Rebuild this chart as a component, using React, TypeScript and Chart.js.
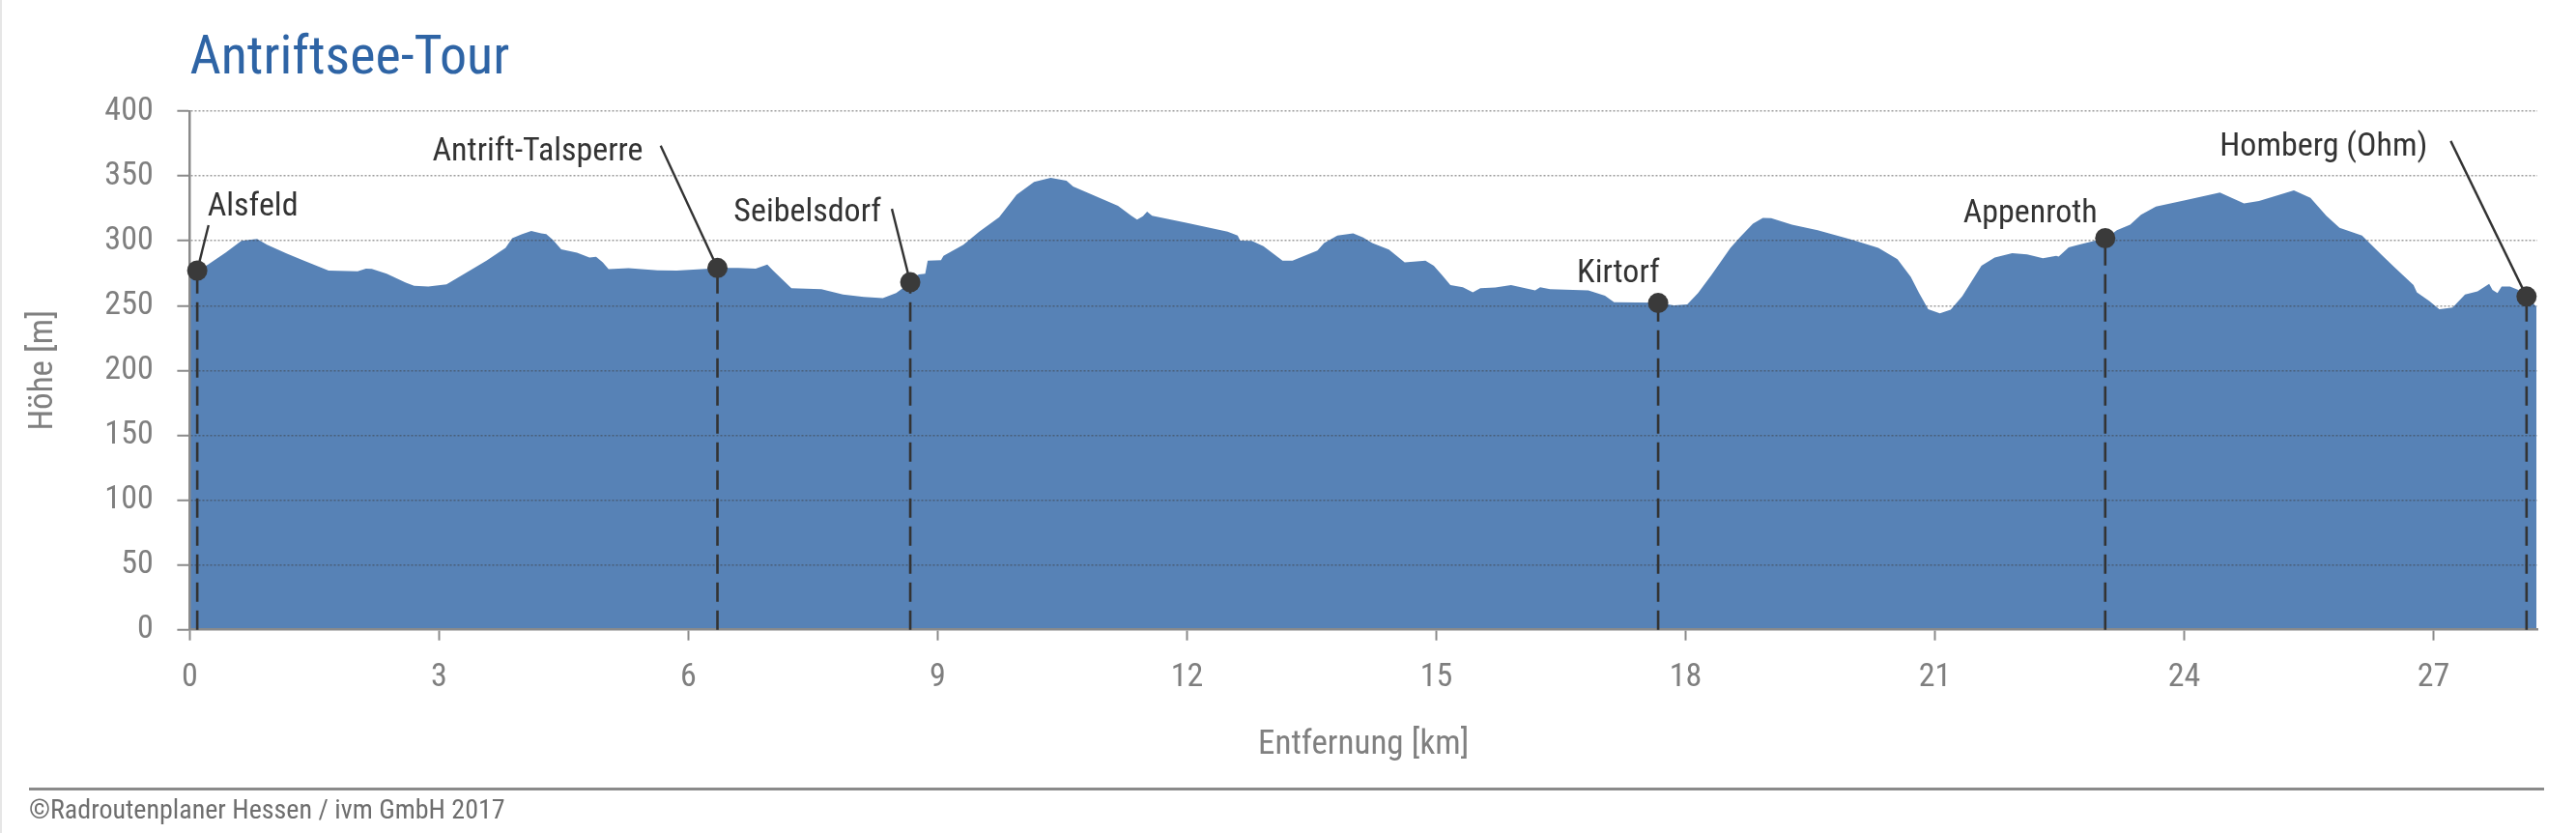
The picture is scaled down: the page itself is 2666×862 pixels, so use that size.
import React, { useEffect, useRef } from 'react';
import { Chart, registerables } from 'chart.js';

Chart.register(...registerables);

// ---------- data ----------
const distanceKm = [
  0, 0.09, 0.22, 0.43, 0.62, 0.81, 0.93, 1.17, 1.36, 1.67, 2.02, 2.12, 2.19, 2.37, 2.6, 2.7, 2.87, 3.09,
  3.34, 3.57, 3.8, 3.88, 4.0, 4.11, 4.23, 4.29, 4.37, 4.47, 4.66, 4.81, 4.89, 4.97, 5.04, 5.28, 5.63,
  5.86, 6.21, 6.35, 6.6, 6.81, 6.95, 7.02, 7.24, 7.6, 7.86, 8.11, 8.34, 8.5, 8.67, 8.77, 8.85, 8.88,
  9.04, 9.07, 9.31, 9.5, 9.74, 9.95, 10.16, 10.36, 10.55, 10.63, 10.86, 11.17, 11.33, 11.4, 11.47,
  11.52, 11.58, 11.99, 12.49, 12.61, 12.64, 12.78, 12.92, 13.15, 13.27, 13.57, 13.65, 13.81, 14.0,
  14.12, 14.23, 14.43, 14.62, 14.87, 14.97, 15.07, 15.17, 15.32, 15.44, 15.53, 15.71, 15.9, 16.19,
  16.25, 16.37, 16.83, 17.03, 17.14, 17.67, 17.86, 18.02, 18.15, 18.31, 18.54, 18.66, 18.81, 18.93,
  19.03, 19.28, 19.59, 20.01, 20.32, 20.55, 20.71, 20.81, 20.92, 21.06, 21.19, 21.33, 21.56, 21.72,
  21.93, 22.11, 22.3, 22.46, 22.49, 22.61, 22.73, 22.92, 23.06, 23.19, 23.35, 23.48, 23.66, 24.01,
  24.43, 24.72, 24.9, 25.32, 25.52, 25.71, 25.87, 26.14, 26.37, 26.53, 26.76, 26.8, 26.95, 27.07,
  27.23, 27.38, 27.53, 27.67, 27.71, 27.77, 27.82, 27.92, 28.02, 28.12, 28.23, 28.24,
];

const elevationM = [
  275, 277, 281.6, 290.8, 300, 301.5, 297, 290, 285, 277, 276.4, 278.6, 278.4, 274.6, 267.7, 265.2, 264.7, 266.4,
  275.9, 284.6, 294.5, 302, 305.2, 307.5, 305.7, 305.2, 300.7, 293.5, 290.8, 287, 287.6, 283.3, 278.1, 278.9, 277.3,
  277.1, 278.4, 279.1, 279.1, 278.6, 281.6, 277.1, 263.4, 262.7, 258.5, 256.7, 255.7, 259.7, 267.7, 274.1, 274.6, 284.6,
  285.1, 288.3, 297, 307, 318.2, 335.6, 345.5, 348.5, 346.3, 341.8, 335.6, 326.9, 319.4, 316.4, 318.9,
  322.4, 319.4, 313.9, 307, 304, 300.2, 300, 295.8, 284.6, 284.6, 292.5, 298.3, 304, 305.7,
  302.5, 298.3, 293.3, 283.3, 284.6, 280.8, 273.4, 265.9, 264.2, 260.2, 263.4, 263.9, 265.9, 261.7,
  264.2, 262.7, 261.7, 257.7, 252.7, 252.2, 250.2, 251, 259.7, 273.4, 294.5, 303.2, 313.2, 317.7,
  317.4, 312.4, 308.2, 300.7, 294.5, 285.8, 272.1, 259.7, 247.3, 244, 246.8, 257.2, 280.8, 287.1,
  290.5, 289.6, 286.6, 288.3, 287.8, 295, 297, 300, 302, 308.2, 312.4, 320.1, 326.4, 331.3,
  337.3, 328.9, 330.6, 338.8, 333.1, 319.4, 310, 304, 289.6, 279.6, 265.9, 260.2, 253.5, 247.3,
  248.5, 258.5, 261, 266.7, 262.2, 259.7, 264.7, 264.7, 262.2, 256.7, 249.8, 249.8,
];

const xTickValues = [0, 3, 6, 9, 12, 15, 18, 21, 24, 27];
const yTickValues = [0, 50, 100, 150, 200, 250, 300, 350, 400];

const placeNames = ['Alsfeld', 'Antrift-Talsperre', 'Seibelsdorf', 'Kirtorf', 'Appenroth', 'Homberg (Ohm)'];
const placeKm = [0.09, 6.35, 8.67, 17.67, 23.05, 28.12];
const placeElevation = [277, 279, 268, 252, 302, 257];

const TITLE = 'Antriftsee-Tour';
const X_TITLE = 'Entfernung [km]';
const Y_TITLE = 'Höhe [m]';
const FOOTER = '©Radroutenplaner Hessen / ivm GmbH 2017';

// ---------- layout / style (not data) ----------
const FONT = "'Roboto Condensed', 'Liberation Sans Narrow', Roboto, sans-serif";
const W = 2666;
const H = 862;

type LabelLayout = { align: CanvasTextAlign; dx: number; dy: number; leader: [number, number] | null };
const labelLayout: LabelLayout[] = [
  { align: 'left', dx: 10.5, dy: -57, leader: [11.7, -47] },
  { align: 'right', dx: -77, dy: -111.6, leader: [-58.8, -126.6] },
  { align: 'right', dx: -30, dy: -62.7, leader: [-19, -76] },
  { align: 'right', dx: 1.7, dy: -21.6, leader: null },
  { align: 'right', dx: -8, dy: -16.7, leader: null },
  { align: 'right', dx: -102.5, dy: -146, leader: [-78.5, -161] },
];

const placesPlugin = {
  id: 'places',
  afterDraw(chart: any) {
    const { ctx } = chart;
    const x = chart.scales.x;
    const y = chart.scales.y;
    const base = y.getPixelForValue(0);
    ctx.save();
    // frame / footer rule
    ctx.fillStyle = '#e6e6e6';
    ctx.fillRect(0, 0, 2, H);
    ctx.fillStyle = '#8a8a8a';
    ctx.fillRect(30, 815, 2603, 3);

    placeNames.forEach((name, i) => {
      const px = x.getPixelForValue(placeKm[i]);
      const py = y.getPixelForValue(placeElevation[i]);
      const L = labelLayout[i];
      // dashed drop line
      ctx.strokeStyle = '#333333';
      ctx.lineWidth = 2.6;
      ctx.setLineDash([20, 9]);
      ctx.beginPath();
      ctx.moveTo(px, base);
      ctx.lineTo(px, py);
      ctx.stroke();
      ctx.setLineDash([]);
      // leader
      if (L.leader) {
        ctx.lineWidth = 2.4;
        ctx.beginPath();
        ctx.moveTo(px + L.leader[0], py + L.leader[1]);
        ctx.lineTo(px, py);
        ctx.stroke();
      }
      // marker
      ctx.fillStyle = '#3a3a3a';
      ctx.beginPath();
      ctx.arc(px, py, 10.5, 0, Math.PI * 2);
      ctx.fill();
      // label
      ctx.fillStyle = '#333333';
      ctx.font = `34px ${FONT}`;
      ctx.textAlign = L.align;
      ctx.textBaseline = 'alphabetic';
      ctx.fillText(name, px + L.dx, py + L.dy);
    });
    ctx.restore();
  },
};

export default function App() {
  const canvasRef = useRef<HTMLCanvasElement | null>(null);

  useEffect(() => {
    const canvas = canvasRef.current;
    if (!canvas) return;
    const points = distanceKm.map((k, i) => ({ x: k, y: elevationM[i] }));
    const axisGray = '#8a8a8a';
    const tickFont = { family: FONT, size: 34 };

    const chart = new Chart(canvas, {
      type: 'line',
      data: {
        datasets: [
          {
            data: points,
            fill: 'origin',
            backgroundColor: '#5782b6',
            borderColor: 'rgba(0,0,0,0)',
            borderWidth: 0,
            pointRadius: 0,
            tension: 0,
          },
        ],
      },
      options: {
        responsive: false,
        animation: false,
        events: [],
        devicePixelRatio: 1,
        layout: { padding: { left: 30, right: 40, top: 0, bottom: 0 } },
        plugins: {
          legend: { display: false },
          tooltip: { enabled: false },
          title: {
            display: true,
            text: TITLE,
            align: 'start',
            fullSize: false,
            color: '#2e64a5',
            font: { family: FONT, size: 56, weight: 'normal', lineHeight: 1 },
            padding: { top: 33.5, bottom: 25.5 },
          },
          subtitle: {
            display: true,
            text: FOOTER,
            position: 'bottom',
            align: 'start',
            fullSize: true,
            color: '#6e6e6e',
            font: { family: FONT, size: 28, lineHeight: 1 },
            padding: { top: 25.5, bottom: 8.5 },
          },
        },
        scales: {
          x: {
            type: 'linear',
            min: 0,
            max: 28.25,
            afterBuildTicks: (axis: any) => {
              axis.ticks = xTickValues.map((v) => ({ value: v }));
            },
            afterFit: (axis: any) => {
              axis.height = 148.3;
            },
            grid: {
              display: true,
              drawOnChartArea: false,
              drawTicks: true,
              tickLength: 11,
              tickColor: axisGray,
              tickWidth: 2,
              z: 1,
            },
            border: { display: true, color: axisGray, width: 2.5, z: 1 },
            ticks: {
              color: '#7f7f7f',
              font: tickFont,
              padding: 18,
              maxRotation: 0,
              autoSkip: false,
            },
            title: {
              display: true,
              text: X_TITLE,
              color: '#808080',
              font: { family: FONT, size: 35, lineHeight: 1.2 },
              padding: { top: 0, bottom: 8 },
            },
          },
          y: {
            type: 'linear',
            min: 0,
            max: 400,
            afterBuildTicks: (axis: any) => {
              axis.ticks = yTickValues.map((v) => ({ value: v }));
            },
            afterFit: (axis: any) => {
              axis.width = 166.4;
            },
            grid: {
              display: true,
              drawOnChartArea: true,
              drawTicks: true,
              tickLength: 13,
              tickColor: axisGray,
              tickWidth: 2,
              lineWidth: 1.5,
              color: (c: any) => (c.tick && c.tick.value === 0 ? 'rgba(0,0,0,0)' : 'rgba(60,60,60,0.5)'),
              z: 1,
            },
            border: { display: true, color: axisGray, width: 2.5, dash: [2, 2], z: 1 },
            ticks: {
              color: '#7f7f7f',
              font: tickFont,
              padding: 24.7,
              autoSkip: false,
            },
            title: {
              display: true,
              text: Y_TITLE,
              color: '#808080',
              font: { family: FONT, size: 35, lineHeight: 0.85 },
              padding: { top: 0, bottom: 0 },
            },
          },
        },
      } as any,
      plugins: [placesPlugin],
    });

    return () => {
      chart.destroy();
    };
  }, []);

  return (
    <div style={{ position: 'fixed', left: 0, top: 0, width: W, height: H, background: '#ffffff' }}>
      <canvas ref={canvasRef} width={W} height={H} style={{ width: W, height: H, display: 'block' }} />
    </div>
  );
}
